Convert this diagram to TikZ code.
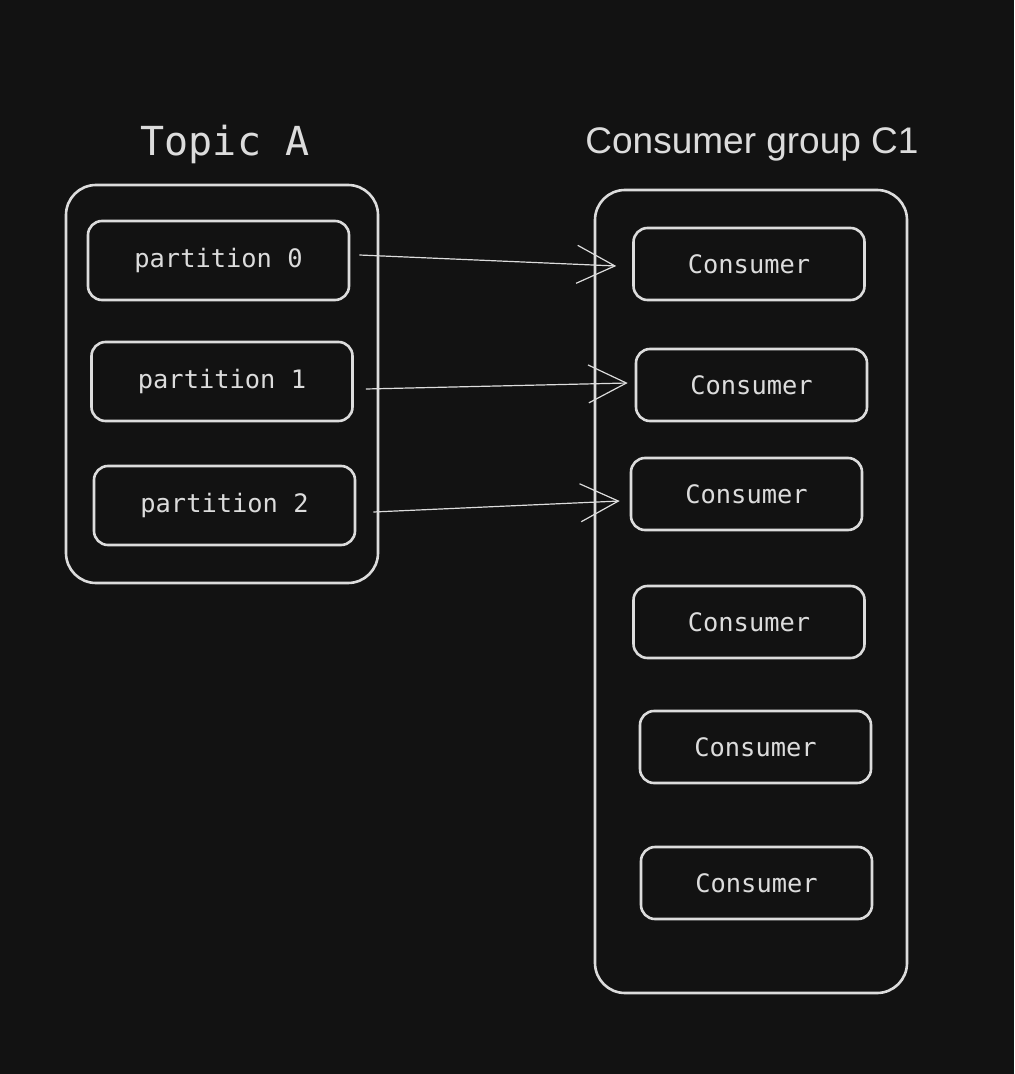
\documentclass[tikz,border=0pt]{standalone}
\usepackage{fontspec}
\setmonofont{DejaVu Sans Mono}
\setsansfont{Liberation Sans}
\usetikzlibrary{arrows.meta}
\definecolor{bg}{HTML}{121212}
\definecolor{ink}{HTML}{DCDCDC}
\tikzset{
  groupbox/.style={draw=ink, line width=1.3pt, rounded corners=15pt},
  partbox/.style={draw=ink, line width=1.3pt, rounded corners=7pt,
    minimum width=130.5pt, minimum height=39.5pt, text=ink,
    font=\ttfamily\fontsize{12.7}{15}\selectfont},
  consbox/.style={draw=ink, line width=1.3pt, rounded corners=7pt,
    minimum width=115.5pt, minimum height=36pt, text=ink,
    font=\ttfamily\fontsize{12.7}{15}\selectfont},
  feed/.style={draw=ink, line width=0.6pt,
    -{Straight Barb[length=19pt,width=19pt,line width=0.6pt]}}
}
\begin{document}
\begin{tikzpicture}[x=0.5pt,y=-0.5pt]
      \fill[bg] (0,0) rectangle (1014,1074);
      \useasboundingbox (0,0) rectangle (1014,1074);
      % titles
      \node[text=ink, font=\ttfamily\fontsize{20}{24}\selectfont] (topictitle) at (225,144) {Topic A};
      \node[text=ink, font=\sffamily\fontsize{18.5}{22}\selectfont] (grouptitle) at (752,144) {Consumer group C1};
      % containers
      \draw[groupbox] (66,185) rectangle (378,583);
      \draw[groupbox] (595,190) rectangle (907,993);
      % partitions
      \node[partbox] (p0) at (218.5,260.5) {partition 0};
      \node[partbox] (p1) at (222,381.5) {partition 1};
      \node[partbox] (p2) at (224.5,505.5) {partition 2};
      % consumers
      \node[consbox] (c1) at (749,264) {Consumer};
      \node[consbox] (c2) at (751.5,385) {Consumer};
      \node[consbox] (c3) at (746.5,494) {Consumer};
      \node[consbox] (c4) at (749,622) {Consumer};
      \node[consbox] (c5) at (755.5,747) {Consumer};
      \node[consbox] (c6) at (756.5,883) {Consumer};
      \begin{scope}[feed]
        \draw ([shift={(9,-5.5)}]p0.east) to ([shift={(-16,2)}]c1.west);
        \draw ([shift={(12,7.5)}]p1.east) to ([shift={(-7,-2)}]c2.west);
        \draw ([shift={(17,6.5)}]p2.east) to ([shift={(-10,7)}]c3.west);
      \end{scope}
    \end{tikzpicture}
\end{document}
